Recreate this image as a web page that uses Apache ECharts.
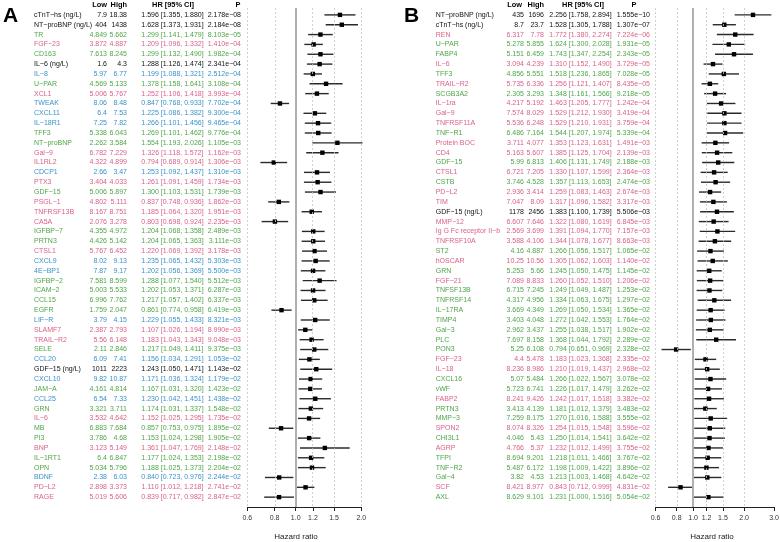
<!DOCTYPE html>
<html><head><meta charset="utf-8">
<script src="https://cdn.jsdelivr.net/npm/echarts@6/dist/echarts.min.js"></script>
<style>html,body{margin:0;padding:0;background:#fff}#c{width:780px;height:542px}</style>
</head><body><div id="c"></div>
<script>
// ---------- Panel A ----------
const namesA = ["cTnT-hs (ng/L)","NT-proBNP (ng/L)","TR","FGF-23","CD163","IL-6 (ng/L)","IL-8","U-PAR","XCL1","TWEAK","CXCL11","IL-18R1","TFF3","NT-proBNP","Gal-9","IL1RL2","CDCP1","PTX3","GDF-15","PSGL-1","TNFRSF13B","CA5A","IGFBP-7","PRTN3","CTSL1","CXCL9","4E-BP1","IGFBP-2","ICAM-2","CCL15","EGFR","LIF-R","SLAMF7","TRAIL-R2","SELE","CCL20","GDF-15 (ng/L)","CXCL10","JAM-A","CCL25","GRN","IL-6","MB","PI3","BNP","IL-1RT1","OPN","BDNF","PD-L2","RAGE"];
const groupA = ["k","k","g","p","g","k","b","g","p","b","b","b","g","g","p","p","b","p","g","p","p","p","g","g","p","b","b","g","g","g","g","b","p","p","g","b","k","b","g","b","g","p","g","g","p","g","g","b","p","p"];
const lowA = ["7.9","404","4.849","3.872","7.613","1.6","5.97","4.569","5.006","8.06","6.4","7.25","5.338","2.262","6.782","4.322","2.66","3.404","5.006","4.802","8.167","2.076","4.355","4.426","5.767","8.02","7.87","7.581","5.003","6.996","1.759","3.79","2.387","5.56","2.11","6.09","1011","9.82","4.161","6.54","3.321","3.532","6.883","3.786","3.123","6.4","5.034","2.38","2.898","5.019"];
const highA = ["18.38","1438","5.662","4.887","8.245","4.3","6.77","5.133","5.767","8.48","7.53","7.82","6.043","3.584","7.229","4.899","3.47","4.033","5.897","5.111","8.751","3.278","4.972","5.142","6.452","9.13","9.17","8.599","5.533","7.762","2.047","4.15","2.793","6.148","2.846","7.41","2223","10.87","4.814","7.33","3.711","4.642","7.684","4.68","5.149","6.847","5.796","6.03","3.373","5.606"];
const hrA = [1.596,1.628,1.299,1.209,1.299,1.288,1.199,1.378,1.252,0.847,1.225,1.266,1.269,1.554,1.326,0.794,1.253,1.261,1.300,0.837,1.185,0.803,1.204,1.204,1.220,1.235,1.202,1.288,1.202,1.217,0.861,1.229,1.107,1.183,1.217,1.156,1.243,1.171,1.167,1.230,1.174,1.152,0.857,1.153,1.361,1.177,1.188,0.840,1.110,0.839];
const loA = [1.355,1.373,1.141,1.096,1.132,1.126,1.088,1.158,1.106,0.768,1.086,1.101,1.101,1.193,1.118,0.689,1.092,1.091,1.103,0.748,1.064,0.698,1.068,1.065,1.069,1.065,1.056,1.077,1.053,1.057,0.774,1.055,1.026,1.043,1.049,1.034,1.050,1.036,1.031,1.042,1.031,1.025,0.753,1.024,1.047,1.024,1.025,0.723,1.012,0.717];
const hiA = [1.880,1.931,1.479,1.332,1.490,1.474,1.321,1.641,1.418,0.933,1.382,1.456,1.462,2.026,1.572,0.914,1.437,1.459,1.531,0.936,1.320,0.924,1.358,1.363,1.392,1.432,1.369,1.540,1.371,1.402,0.958,1.433,1.194,1.343,1.411,1.291,1.471,1.324,1.320,1.451,1.337,1.295,0.975,1.298,1.769,1.353,1.373,0.976,1.218,0.982];
const pA = ["2.178e-08","2.184e-08","8.103e-05","1.410e-04","1.982e-04","2.341e-04","2.512e-04","3.108e-04","3.993e-04","7.702e-04","9.300e-04","9.465e-04","9.776e-04","1.105e-03","1.162e-03","1.306e-03","1.310e-03","1.734e-03","1.739e-03","1.862e-03","1.951e-03","2.235e-03","2.489e-03","3.111e-03","3.178e-03","5.303e-03","5.500e-03","5.512e-03","6.287e-03","6.337e-03","6.419e-03","8.321e-03","8.990e-03","9.048e-03","9.375e-03","1.053e-02","1.143e-02","1.179e-02","1.423e-02","1.438e-02","1.548e-02","1.735e-02","1.895e-02","1.905e-02","2.148e-02","2.198e-02","2.204e-02","2.244e-02","2.741e-02","2.847e-02"];
const ticksA = [0.6,0.8,1.0,1.2,1.5,2.0];

// ---------- Panel B ----------
const namesB = ["NT-proBNP (ng/L)","cTnT-hs (ng/L)","REN","U-PAR","FABP4","IL-6","TFF3","TRAIL-R2","SCGB3A2","IL-1ra","Gal-9","TNFRSF11A","TNF-R1","Protein BOC","CD4","GDF-15","CTSL1","CSTB","PD-L2","TIM","GDF-15 (ng/L)","MMP-12","Ig G Fc receptor II-b","TNFRSF10A","ST2","hOSCAR","GRN","FGF-21","TNFSF13B","TNFRSF14","IL-17RA","TIMP4","Gal-3","PLC","PON3","FGF-23","IL-18","CXCL16","vWF","FABP2","PRTN3","MMP-3","SPON2","CHI3L1","AGRP","TFPI","TNF-R2","Gal-4","SCF","AXL"];
const groupB = ["k","k","p","g","g","p","g","p","g","p","p","p","g","p","p","g","p","g","p","p","k","p","p","p","g","p","g","p","g","g","g","g","g","g","g","p","p","g","g","p","g","g","p","g","p","g","g","g","p","g"];
const lowB = ["435","8.7","6.317","5.278","5.151","3.094","4.856","5.735","2.305","4.217","7.574","5.536","6.486","3.711","5.163","5.99","6.721","3.746","2.936","7.047","1178","6.607","2.569","3.588","4.16","10.25","5.253","7.089","6.715","4.317","3.669","3.403","2.962","7.697","5.25","4.4","8.236","5.07","5.723","8.241","3.413","7.259","8.074","4.046","4.766","8.694","5.487","3.82","8.421","8.629"];
const highB = ["1696","23.7","7.78","5.855","6.459","4.239","5.551","6.336","3.293","5.192","8.029","6.248","7.164","4.077","5.607","6.813","7.205","4.528","3.414","8.09","2456","7.646","3.699","4.106","4.887","10.56","5.66","8.833","7.245","4.956","4.349","4.048","3.437","8.158","6.108","5.478","8.986","5.484","6.741","9.426","4.139","8.175","8.326","5.43","5.37","9.201","6.172","4.53","8.977","9.101"];
const hrB = [2.256,1.528,1.772,1.624,1.743,1.310,1.518,1.256,1.348,1.463,1.529,1.529,1.544,1.353,1.385,1.406,1.330,1.357,1.259,1.317,1.383,1.322,1.391,1.344,1.266,1.305,1.245,1.260,1.249,1.334,1.269,1.272,1.255,1.368,0.794,1.183,1.210,1.266,1.226,1.242,1.181,1.270,1.254,1.250,1.232,1.218,1.198,1.213,0.843,1.231];
const loB = [1.758,1.305,1.380,1.300,1.347,1.152,1.236,1.121,1.161,1.205,1.212,1.210,1.207,1.123,1.125,1.131,1.107,1.113,1.083,1.096,1.100,1.080,1.094,1.078,1.056,1.062,1.050,1.052,1.049,1.063,1.050,1.042,1.038,1.044,0.651,1.023,1.019,1.022,1.017,1.017,1.012,1.016,1.015,1.014,1.012,1.011,1.009,1.003,0.712,1.000];
const hiB = [2.894,1.788,2.274,2.028,2.254,1.490,1.865,1.407,1.566,1.777,1.930,1.931,1.974,1.631,1.704,1.749,1.599,1.653,1.463,1.582,1.739,1.619,1.770,1.677,1.517,1.603,1.475,1.510,1.487,1.675,1.534,1.553,1.517,1.792,0.969,1.368,1.437,1.567,1.479,1.518,1.379,1.588,1.548,1.541,1.499,1.466,1.422,1.468,0.999,1.516];
const pB = ["1.555e-10","1.307e-07","7.224e-06","1.931e-05","2.343e-05","3.729e-05","7.028e-05","8.435e-05","9.218e-05","1.242e-04","3.419e-04","3.759e-04","5.339e-04","1.491e-03","2.139e-03","2.188e-03","2.364e-03","2.474e-03","2.674e-03","3.317e-03","5.506e-03","6.845e-03","7.157e-03","8.663e-03","1.065e-02","1.140e-02","1.145e-02","1.206e-02","1.253e-02","1.297e-02","1.365e-02","1.764e-02","1.902e-02","2.289e-02","2.328e-02","2.335e-02","2.968e-02","3.078e-02","3.262e-02","3.382e-02","3.483e-02","3.555e-02","3.596e-02","3.642e-02","3.755e-02","3.767e-02","3.896e-02","4.642e-02","4.831e-02","5.054e-02"];
const ticksB = [0.6,0.8,1.0,1.2,1.5,2.0,3.0];

// ---------- styling ----------
const COLORS = {k:'#111111', g:'#4fa64a', p:'#d9628a', b:'#3a93c9'};
const FONT = '"Liberation Sans", Arial, Helvetica, sans-serif';
const FS = 7;
const minus = s => String(s).replace(/-/g, '\u2212');
const f3 = v => v.toFixed(3);

const panels = [
  {names:namesA, group:groupA, low:lowA, high:highA, hr:hrA, lo:loA, hi:hiA, p:pA, ticks:ticksA,
   gridLeft:247.3, gridWidth:114, xName:34, xLow:107, xHigh:127, xHR:172.5, xP:241, pAlign:'right'},
  {names:namesB, group:groupB, low:lowB, high:highB, hr:hrB, lo:loB, hi:hiB, p:pB, ticks:ticksB,
   gridLeft:655.5, gridWidth:118.5, xName:435.7, xLow:524, xHigh:544, xHR:580.5, xP:650, pAlign:'right'}
];

const grids = [], xAxes = [], yAxes = [], series = [];
panels.forEach((P, k) => {
  grids.push({left:P.gridLeft, width:P.gridWidth, top:8, height:499, outerBoundsMode:'none', containLabel:false});
  const tmin = Math.log(P.ticks[0]), tmax = Math.log(P.ticks[P.ticks.length-1]);
  const tickVals = P.ticks.map(t => Math.log(t));
  xAxes.push({
    type:'value', gridIndex:k, min:tmin, max:tmax, position:'bottom',
    axisLine:{show:true, onZero:false, lineStyle:{color:'#222', width:1}},
    axisTick:{show:true, length:4, customValues:tickVals, lineStyle:{color:'#222', width:1}},
    axisLabel:{show:true, customValues:tickVals, margin:8, fontSize:7, color:'#333', fontFamily:FONT,
      formatter: v => Math.exp(v).toFixed(1)},
    splitLine:{show:false}
  });
  yAxes.push({type:'value', gridIndex:k, inverse:true, min:-0.7, max:50.0, show:false});

  // table text + reference lines
  series.push({
    type:'custom', xAxisIndex:k, yAxisIndex:k, z:2, clip:false, silent:true,
    data: P.names.map((n,i) => [tmin, i]),
    renderItem: (params, api) => {
      const i = api.value(1);
      const y = api.coord([tmin, i])[1];
      const col = COLORS[P.group[i]];
      const mk = (text, x, align) => ({type:'text', style:{text:text, x:x, y:y, fill:col,
        font: FS + 'px ' + FONT, align:align, textAlign:align, verticalAlign:'middle', textVerticalAlign:'middle'}});
      return {type:'group', children:[
        mk(minus(P.names[i]), P.xName, 'left'),
        mk(P.low[i], P.xLow, 'right'),
        mk(P.high[i], P.xHigh, 'right'),
        mk(f3(P.hr[i]) + ' [' + f3(P.lo[i]) + ', ' + f3(P.hi[i]) + ']', P.xHR, 'center'),
        mk(minus(P.p[i]), P.xP, P.pAlign)
      ]};
    },
    markLine:{
      symbol:'none', silent:true, label:{show:false}, animation:false,
      lineStyle:{type:[2,2], color:'#c4c4c4', width:0.8},
      data: P.ticks.filter(t => t !== 1).map(t => ({xAxis:Math.log(t)})).concat([
        {xAxis:0, lineStyle:{type:'solid', color:'#b0b0b0', width:2}}])
    }
  });

  // forest markers
  series.push({
    type:'custom', xAxisIndex:k, yAxisIndex:k, z:3, clip:false, silent:true,
    data: P.hr.map((h,i) => [Math.log(h), i, Math.log(P.lo[i]), Math.log(P.hi[i])]),
    renderItem: (params, api) => {
      const c = api.coord([api.value(0), api.value(1)]);
      const a = api.coord([api.value(2), api.value(1)]);
      const b = api.coord([api.value(3), api.value(1)]);
      return {type:'group', children:[
        {type:'line', shape:{x1:a[0], y1:a[1], x2:b[0], y2:b[1]}, style:{stroke:'#2a2a2a', lineWidth:1.4}},
        {type:'rect', shape:{x:c[0]-2.2, y:c[1]-2.2, width:4.4, height:4.4}, style:{fill:'#000'}}
      ]};
    }
  });
});

const hdr = (text, x, align) => ({type:'text', x:x, y:4.5,
  style:{text:text, x:0, y:0, font:'bold 7.4px ' + FONT, fill:'#000', align:align, textAlign:align, verticalAlign:'middle', textVerticalAlign:'middle'}});
const graphics = [
  {type:'text', x:3, y:16, style:{text:'A', x:0, y:0, font:'bold 21px ' + FONT, fill:'#000', align:'left', textAlign:'left', verticalAlign:'middle', textVerticalAlign:'middle'}},
  {type:'text', x:404, y:16, style:{text:'B', x:0, y:0, font:'bold 21px ' + FONT, fill:'#000', align:'left', textAlign:'left', verticalAlign:'middle', textVerticalAlign:'middle'}},
  hdr('Low', 107, 'right'), hdr('High', 127, 'right'), hdr('HR [95% CI]', 173, 'center'), hdr('P', 238, 'center'),
  hdr('Low', 522, 'right'), hdr('High', 544, 'right'), hdr('HR [95% CI]', 583, 'center'), hdr('P', 634, 'center'),
  {type:'text', x:296, y:537, style:{text:'Hazard ratio', x:0, y:0, font:'8px ' + FONT, fill:'#222', align:'center', textAlign:'center', verticalAlign:'middle', textVerticalAlign:'middle'}},
  {type:'text', x:712, y:537, style:{text:'Hazard ratio', x:0, y:0, font:'8px ' + FONT, fill:'#222', align:'center', textAlign:'center', verticalAlign:'middle', textVerticalAlign:'middle'}}
];

const chart = echarts.init(document.getElementById('c'), null, {renderer:'canvas'});
chart.setOption({
  animation:false,
  backgroundColor:'#fff',
  grid:grids, xAxis:xAxes, yAxis:yAxes, series:series, graphic:graphics
});
</script>
</body></html>
